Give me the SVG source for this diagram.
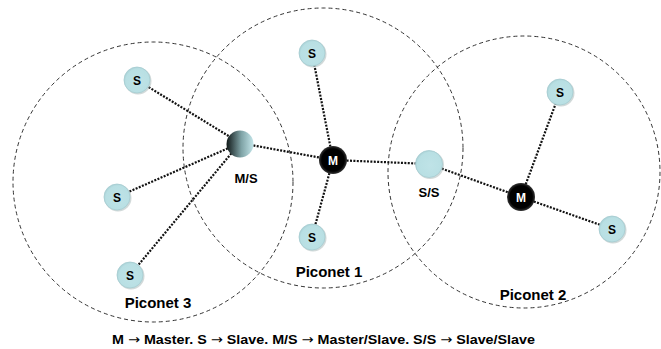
<svg xmlns="http://www.w3.org/2000/svg" width="661" height="349" viewBox="0 0 661 349">
<style>
.area{fill:none;stroke:#333;stroke-width:1;stroke-dasharray:4 3}
.link{stroke:#111;stroke-width:2.2;stroke-dasharray:2 1.4}
.s{fill:url(#gS);stroke:#a6cbd0;stroke-width:0.8}
.sh{fill:#9aa;opacity:0.45}
.t{font-family:"Liberation Sans",Arial,sans-serif;font-weight:bold;fill:#000}
.w{fill:#fff}
.nl{font-size:12px;text-anchor:middle}
.pl{font-size:15px;text-anchor:middle}
.ml{font-size:13px;text-anchor:middle}
.ar{font-family:"DejaVu Sans",sans-serif;font-weight:normal}
</style>
<defs>
<radialGradient id="gS" cx="0.55" cy="0.55" r="0.6">
<stop offset="0" stop-color="#bfe3e7"/>
<stop offset="0.8" stop-color="#b8dfe3"/>
<stop offset="1" stop-color="#a3cbd0"/>
</radialGradient>
<linearGradient id="gMS" x1="0" y1="0" x2="1" y2="0">
<stop offset="0" stop-color="#101818"/>
<stop offset="0.55" stop-color="#7fa3a6"/>
<stop offset="1" stop-color="#c4e6ea"/>
</linearGradient>
<radialGradient id="gM" cx="0.5" cy="0.5" r="0.5">
<stop offset="0.8" stop-color="#000"/>
<stop offset="1" stop-color="#333"/>
</radialGradient>
</defs>
<rect width="661" height="349" fill="#fff"/>
<g id="areas">
<circle class="area" cx="153" cy="182" r="140"/>
<circle class="area" cx="323" cy="148" r="140"/>
<circle class="area" cx="524" cy="172" r="136"/>
</g>
<g id="connectors">
<line class="link" x1="137" y1="80" x2="240" y2="143"/>
<line class="link" x1="117" y1="197" x2="240" y2="143"/>
<line class="link" x1="130" y1="275" x2="240" y2="143"/>
<line class="link" x1="240" y1="143" x2="333" y2="160"/>
<line class="link" x1="333" y1="160" x2="312" y2="53"/>
<line class="link" x1="333" y1="160" x2="312" y2="237"/>
<line class="link" x1="333" y1="160" x2="429" y2="164"/>
<line class="link" x1="429" y1="164" x2="521" y2="197"/>
<line class="link" x1="521" y1="197" x2="560" y2="92"/>
<line class="link" x1="521" y1="197" x2="612" y2="229"/>
</g>
<g id="s1"><circle class="sh" cx="138" cy="81" r="13.5"/><circle class="s" cx="137" cy="80" r="13"/><text class="t nl" x="137" y="84.5">S</text></g>
<g id="s2"><circle class="sh" cx="118" cy="198" r="13.5"/><circle class="s" cx="117" cy="197" r="13"/><text class="t nl" x="117" y="201.5">S</text></g>
<g id="s3"><circle class="sh" cx="131" cy="276" r="13.5"/><circle class="s" cx="130" cy="275" r="13"/><text class="t nl" x="130" y="279.5">S</text></g>
<g id="ms"><circle fill="url(#gMS)" cx="240" cy="144" r="13.5"/><text class="t ml" x="246" y="183">M/S</text></g>
<g id="m1"><circle fill="url(#gM)" cx="333" cy="160" r="14"/><text class="t nl w" x="333" y="164.5">M</text></g>
<g id="s4"><circle class="sh" cx="313" cy="54" r="13.5"/><circle class="s" cx="312" cy="53" r="13"/><text class="t nl" x="312" y="57.5">S</text></g>
<g id="s5"><circle class="sh" cx="313" cy="238" r="13.5"/><circle class="s" cx="312" cy="237" r="13"/><text class="t nl" x="312" y="241.5">S</text></g>
<g id="ss"><circle class="sh" cx="430" cy="165" r="14"/><circle class="s" cx="429" cy="164" r="13.5"/><text class="t ml" x="429" y="197">S/S</text></g>
<g id="m2"><circle fill="url(#gM)" cx="521" cy="197" r="14"/><text class="t nl w" x="521" y="201.5">M</text></g>
<g id="s6"><circle class="sh" cx="561" cy="93" r="13.5"/><circle class="s" cx="560" cy="92" r="13"/><text class="t nl" x="560" y="96.5">S</text></g>
<g id="s7"><circle class="sh" cx="613" cy="230" r="13.5"/><circle class="s" cx="612" cy="229" r="13"/><text class="t nl" x="612" y="233.5">S</text></g>
<g id="labels">
<text class="t pl" x="329" y="277">Piconet 1</text>
<text class="t pl" x="533" y="300">Piconet 2</text>
<text class="t pl" x="158" y="308">Piconet 3</text>
<text class="t" x="112" y="344" font-size="13" textLength="423" lengthAdjust="spacingAndGlyphs">M <tspan class="ar">→</tspan> Master. S <tspan class="ar">→</tspan> Slave. M/S <tspan class="ar">→</tspan> Master/Slave. S/S <tspan class="ar">→</tspan> Slave/Slave</text>
</g>
</svg>
